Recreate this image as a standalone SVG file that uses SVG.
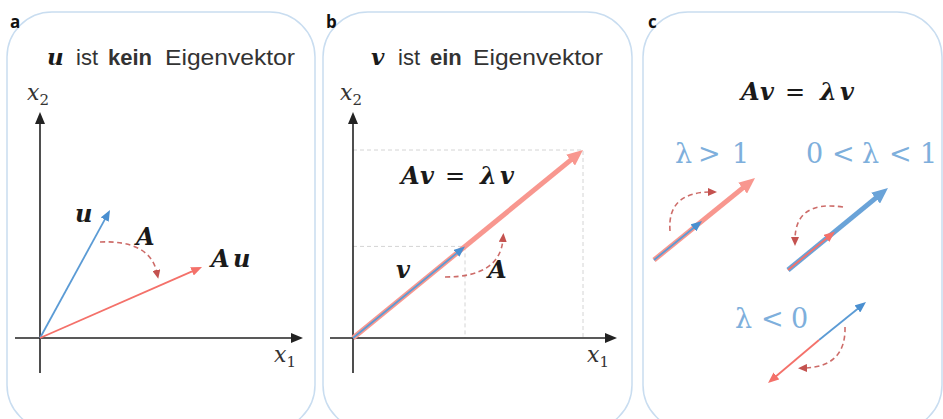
<svg xmlns="http://www.w3.org/2000/svg" width="943" height="419" viewBox="0 0 943 419">
<style>
.panel{fill:#fff;stroke:#c9ddf0;stroke-width:1.5}
.plabel{font-family:"Open Sans","Liberation Sans",sans-serif;font-weight:bold;font-size:17px;fill:#111}
.title{font-family:"Liberation Sans",Arial,sans-serif;font-size:22px;fill:#333}
.mb{font-family:"DejaVu Serif","Liberation Serif",serif;font-style:italic;font-weight:bold;fill:#1a1a1a}
.mn{font-family:"DejaVu Serif","Liberation Serif",serif;fill:#1a1a1a}
.mi{font-family:"DejaVu Serif","Liberation Serif",serif;font-style:italic;fill:#333}
.ml{font-family:"DejaVu Serif","Liberation Serif",serif;font-size:27px;fill:#7eafdc}
.axis{stroke:#222;stroke-width:1.6;fill:none;marker-end:url(#ax)}
.guide{stroke:#d4d4d4;stroke-width:1;stroke-dasharray:4 3;fill:none}
.arc{stroke:#c4524f;stroke-opacity:0.85;stroke-width:1.6;stroke-dasharray:5 3.5;fill:none;marker-end:url(#dm)}
.bt{stroke:#5b9bd5;stroke-width:1.8;fill:none;marker-end:url(#bs)}
.rt{stroke:#f4716a;stroke-width:1.8;fill:none;marker-end:url(#rs)}
.rT{stroke:#f8978f;stroke-width:5;fill:none;marker-end:url(#rL)}
.bT{stroke:#6aa3d8;stroke-width:5;fill:none;marker-end:url(#bL)}
</style>
<defs>
<marker id="ax" viewBox="0 0 12 10" markerWidth="12" markerHeight="10" refX="3" refY="5" orient="auto" markerUnits="userSpaceOnUse"><path d="M0,0 L12,5 L0,10 z" fill="#222"/></marker>
<marker id="bs" viewBox="0 0 11 9" markerWidth="11" markerHeight="9" refX="2" refY="4.5" orient="auto" markerUnits="userSpaceOnUse"><path d="M0,0 L11,4.5 L0,9 z" fill="#4a8fd0"/></marker>
<marker id="rs" viewBox="0 0 11 9" markerWidth="11" markerHeight="9" refX="2" refY="4.5" orient="auto" markerUnits="userSpaceOnUse"><path d="M0,0 L11,4.5 L0,9 z" fill="#f4716a"/></marker>
<marker id="rL" viewBox="0 0 16 14" markerWidth="16" markerHeight="14" refX="4" refY="7" orient="auto" markerUnits="userSpaceOnUse"><path d="M0,0 L16,7 L0,14 z" fill="#f8978f"/></marker>
<marker id="bL" viewBox="0 0 16 14" markerWidth="16" markerHeight="14" refX="4" refY="7" orient="auto" markerUnits="userSpaceOnUse"><path d="M0,0 L16,7 L0,14 z" fill="#6aa3d8"/></marker>
<marker id="dm" viewBox="0 0 9 8" markerWidth="9" markerHeight="8" refX="3" refY="4" orient="auto" markerUnits="userSpaceOnUse"><path d="M0,0 L9,4 L0,8 z" fill="#c4524f"/></marker>
</defs>

<g id="panel-a">
<rect class="panel" x="7" y="12" width="308" height="418" rx="45"/>
<text class="plabel" x="10" y="28">a</text>
<text class="mb" x="47" y="65" font-size="23">u</text>
<text class="title" x="76" y="65">ist</text>
<text class="title" x="108" y="65" font-weight="bold">kein</text>
<text class="title" x="165" y="65" textLength="130" lengthAdjust="spacingAndGlyphs">Eigenvektor</text>
<text class="mi" x="27" y="100" font-size="22">x<tspan font-style="normal" font-size="15" dy="5">2</tspan></text>
<text class="mi" x="274" y="362" font-size="22">x<tspan font-style="normal" font-size="15" dy="5">1</tspan></text>
<text class="mb" x="75" y="222" font-size="24">u</text>
<text class="mb" x="136" y="245" font-size="24">A</text>
<text class="mb" x="211" y="267" font-size="24"><tspan>A</tspan><tspan x="233">u</tspan></text>
</g>

<g id="panel-b">
<rect class="panel" x="323" y="12" width="309" height="418" rx="45"/>
<text class="plabel" x="326" y="28">b</text>
<text class="mb" x="371" y="65" font-size="23">v</text>
<text class="title" x="398" y="65" font-size="21">ist</text>
<text class="title" x="430" y="65" font-weight="bold">ein</text>
<text class="title" x="473" y="65" textLength="130" lengthAdjust="spacingAndGlyphs">Eigenvektor</text>
<text class="mi" x="340" y="100" font-size="22">x<tspan font-style="normal" font-size="15" dy="5">2</tspan></text>
<text class="mi" x="587" y="362" font-size="22">x<tspan font-style="normal" font-size="15" dy="5">1</tspan></text>
<text class="mb" y="184" font-size="24"><tspan x="401">A</tspan><tspan x="420">v</tspan></text>
<text class="mn" x="445" y="184" font-size="24">=</text>
<text class="mb" y="184" font-size="24"><tspan x="480">λ</tspan><tspan x="500">v</tspan></text>
<text class="mb" x="396" y="278" font-size="24">v</text>
<text class="mb" x="488" y="278" font-size="24">A</text>
</g>

<g id="panel-c">
<rect class="panel" x="643" y="12" width="299" height="418" rx="45"/>
<text class="plabel" x="648" y="28">c</text>
<text class="mb" y="100" font-size="24"><tspan x="741">A</tspan><tspan x="760">v</tspan></text>
<text class="mn" x="785" y="100" font-size="24">=</text>
<text class="mb" y="100" font-size="24"><tspan x="820">λ</tspan><tspan x="840">v</tspan></text>
<text class="ml" y="163"><tspan x="675">λ</tspan><tspan x="698">&gt;</tspan><tspan x="732">1</tspan></text>
<text class="ml" y="163"><tspan x="806">0</tspan><tspan x="832">&lt;</tspan><tspan x="862">λ</tspan><tspan x="889">&lt;</tspan><tspan x="920">1</tspan></text>
<text class="ml" y="328"><tspan x="735">λ</tspan><tspan x="761">&lt;</tspan><tspan x="791">0</tspan></text>
</g>

<g id="connectors">
<line class="axis" x1="40" y1="373" x2="40" y2="121"/>
<line class="axis" x1="15" y1="338" x2="294" y2="338"/>
<line class="bt" x1="40" y1="338" x2="105.7" y2="217.9"/>
<line class="rt" x1="40" y1="338" x2="193.8" y2="270.6"/>
<path class="arc" d="M100,242 Q150,240 157,273"/>
<polyline class="guide" points="353,150 583,150 583,338"/>
<polyline class="guide" points="353,246.4 465,246.4 465,338"/>
<line class="axis" x1="353" y1="373" x2="353" y2="121"/>
<line class="axis" x1="330" y1="338" x2="608" y2="338"/>
<line class="rT" x1="353" y1="338" x2="573.7" y2="157.6"/>
<line class="bt" x1="353" y1="338" x2="458" y2="252.1" stroke-width="2.2"/>
<path class="arc" d="M445,277 Q500,277 503,239"/>
<line class="rT" x1="654" y1="260" x2="745.7" y2="185.6"/>
<line class="bt" x1="654" y1="260" x2="695" y2="226.7" stroke-width="2.2"/>
<path class="arc" d="M670,231 Q667,192 711,192"/>
<line class="bT" x1="788" y1="270" x2="878.7" y2="195.6"/>
<line class="rt" x1="788" y1="270" x2="828" y2="237.2" stroke-width="2.2"/>
<path class="arc" d="M843,207 Q795,200 795,240"/>
<line class="bt" x1="819" y1="340" x2="859" y2="307.7"/>
<line class="rt" x1="819" y1="340" x2="774.9" y2="377.2"/>
<path class="arc" d="M845,327 Q846,367 804,368"/>
</g>
</svg>
